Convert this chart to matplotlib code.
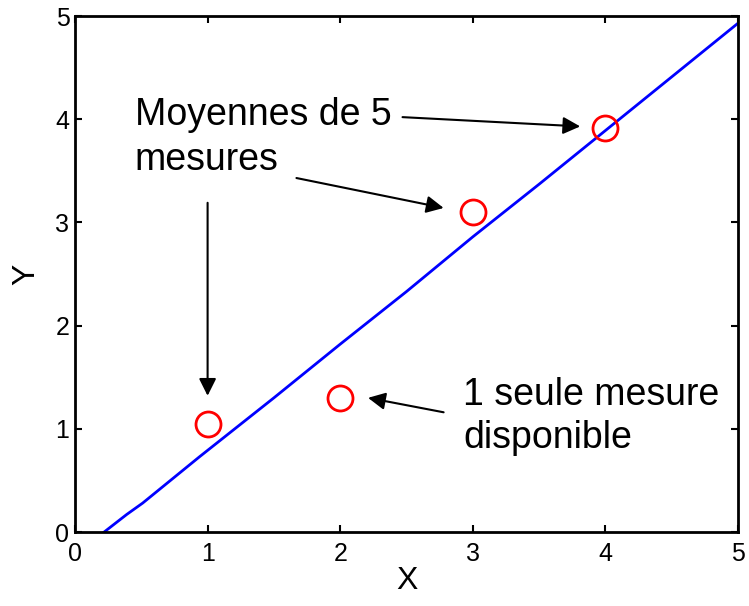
import numpy as np
import matplotlib.pyplot as plt

# measured points (red circles)
pts_x = [1, 2, 3, 4]
pts_y = [1.05, 1.30, 3.10, 3.91]

# fitted line
line_x = [0.22, 0.39, 0.51, 0.94, 1.5, 2.0, 2.5, 3.0, 3.5, 4.0, 4.5, 5.0]
line_y = [0.0, 0.17, 0.28, 0.73, 1.30, 1.82, 2.33, 2.86, 3.37, 3.89, 4.41, 4.93]

ticks = [0, 1, 2, 3, 4, 5]

plt.rcParams['font.family'] = ['Liberation Sans', 'DejaVu Sans']

fig = plt.figure(figsize=(7.49, 6.06), dpi=100)
ax = fig.add_axes([75/749, 1-532/606, (738-75)/749, (532-16)/606])

ax.plot(line_x, line_y, color='blue', lw=2)
ax.plot(pts_x, pts_y, 'o', ms=18, mfc='none', mec='red', mew=2)

ax.set_xlim(0, 5)
ax.set_ylim(0, 5)
ax.set_xticks(ticks)
ax.set_yticks(ticks)
ax.tick_params(direction='in', length=5, width=1.5, labelsize=18, top=True, right=True)
ax.tick_params(axis='x', pad=7)
ax.tick_params(axis='y', pad=4)
for s in ax.spines.values():
    s.set_linewidth(2)
ax.set_xlabel('X', fontsize=23, labelpad=0)
ax.set_ylabel('Y', fontsize=23, labelpad=10)

# annotation texts, one line each so the baselines sit where they should
ax.text(0.45, 3.944, 'Moyennes de 5', fontsize=27, va='baseline', ha='left')
ax.text(0.45, 3.508, 'mesures', fontsize=27, va='baseline', ha='left')
ax.text(2.926, 1.231, '1 seule mesure', fontsize=27, va='baseline', ha='left')
ax.text(2.926, 0.814, 'disponible', fontsize=27, va='baseline', ha='left')

arr = dict(arrowstyle='-|>', color='black', lw=1.5, mutation_scale=26, shrinkA=0, shrinkB=0)
ax.annotate('', xy=(3.81, 3.93), xytext=(2.47, 4.02), arrowprops=arr)
ax.annotate('', xy=(2.78, 3.14), xytext=(1.67, 3.43), arrowprops=arr)
ax.annotate('', xy=(1.0, 1.32), xytext=(1.0, 3.19), arrowprops=arr)
ax.annotate('', xy=(2.21, 1.30), xytext=(2.78, 1.16), arrowprops=arr)

fig.savefig('out.png', dpi=100)
